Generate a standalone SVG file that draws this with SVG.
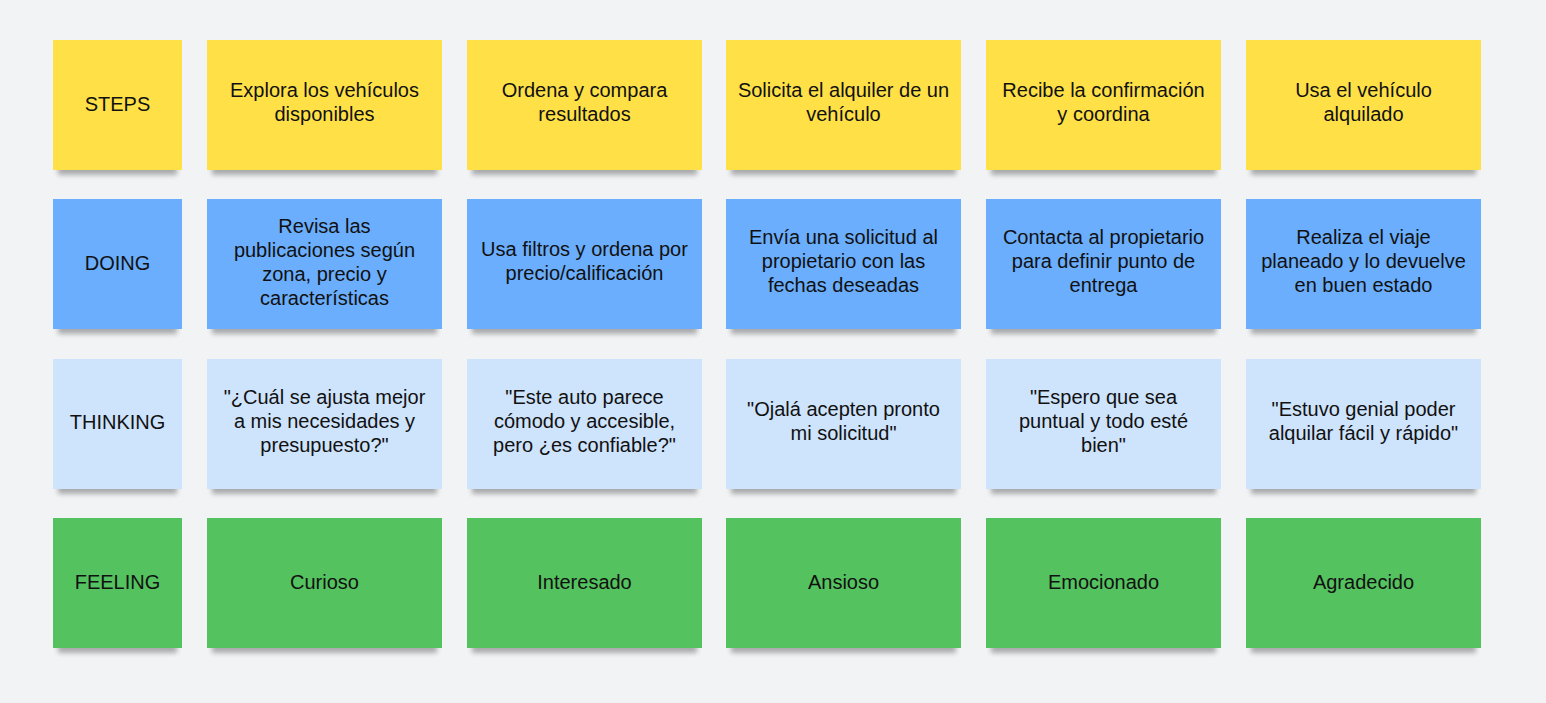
<svg xmlns="http://www.w3.org/2000/svg" width="1546" height="703" viewBox="0 0 1546 703">
<defs>
<filter id="sh" x="-10%" y="-10%" width="120%" height="130%">
<feMorphology in="SourceAlpha" operator="erode" radius="5 0" result="e"/>
<feOffset in="e" dx="0" dy="5" result="o"/>
<feGaussianBlur in="o" stdDeviation="2.5" result="b"/>
<feComponentTransfer in="b" result="s"><feFuncA type="linear" slope="0.3"/></feComponentTransfer>
<feMerge><feMergeNode in="s"/><feMergeNode in="SourceGraphic"/></feMerge>
</filter>
<style>
.n{filter:url(#sh)}
.y{fill:#FFE147}.b{fill:#6AAEFD}.l{fill:#CEE3FC}.g{fill:#54C260}
text{font-family:"Liberation Sans",Arial,sans-serif;font-size:20px;fill:#111;text-anchor:middle}
</style>
</defs>
<rect width="1546" height="703" fill="#F2F3F5"/>
<g id="connectors"/>
<!-- Row 1 -->
<g id="steps"><rect class="n y" x="53" y="40" width="129" height="130"/><text x="117.5" y="111">STEPS</text></g>
<g id="s1"><rect class="n y" x="207" y="40" width="235" height="130"/><text x="324.5" y="97">Explora los vehículos</text><text x="324.5" y="121">disponibles</text></g>
<g id="s2"><rect class="n y" x="467" y="40" width="235" height="130"/><text x="584.5" y="97">Ordena y compara</text><text x="584.5" y="121">resultados</text></g>
<g id="s3"><rect class="n y" x="726" y="40" width="235" height="130"/><text x="843.5" y="97">Solicita el alquiler de un</text><text x="843.5" y="121">vehículo</text></g>
<g id="s4"><rect class="n y" x="986" y="40" width="235" height="130"/><text x="1103.5" y="97">Recibe la confirmación</text><text x="1103.5" y="121">y coordina</text></g>
<g id="s5"><rect class="n y" x="1246" y="40" width="235" height="130"/><text x="1363.5" y="97">Usa el vehículo</text><text x="1363.5" y="121">alquilado</text></g>
<!-- Row 2 -->
<g id="doing"><rect class="n b" x="53" y="199" width="129" height="130"/><text x="117.5" y="270">DOING</text></g>
<g id="d1"><rect class="n b" x="207" y="199" width="235" height="130"/><text x="324.5" y="233">Revisa las</text><text x="324.5" y="257">publicaciones según</text><text x="324.5" y="281">zona, precio y</text><text x="324.5" y="305">características</text></g>
<g id="d2"><rect class="n b" x="467" y="199" width="235" height="130"/><text x="584.5" y="256">Usa filtros y ordena por</text><text x="584.5" y="280">precio/calificación</text></g>
<g id="d3"><rect class="n b" x="726" y="199" width="235" height="130"/><text x="843.5" y="244">Envía una solicitud al</text><text x="843.5" y="268">propietario con las</text><text x="843.5" y="292">fechas deseadas</text></g>
<g id="d4"><rect class="n b" x="986" y="199" width="235" height="130"/><text x="1103.5" y="244">Contacta al propietario</text><text x="1103.5" y="268">para definir punto de</text><text x="1103.5" y="292">entrega</text></g>
<g id="d5"><rect class="n b" x="1246" y="199" width="235" height="130"/><text x="1363.5" y="244">Realiza el viaje</text><text x="1363.5" y="268">planeado y lo devuelve</text><text x="1363.5" y="292">en buen estado</text></g>
<!-- Row 3 -->
<g id="thinking"><rect class="n l" x="53" y="359" width="129" height="130"/><text x="117.5" y="429">THINKING</text></g>
<g id="t1"><rect class="n l" x="207" y="359" width="235" height="130"/><text x="324.5" y="404">"¿Cuál se ajusta mejor</text><text x="324.5" y="428">a mis necesidades y</text><text x="324.5" y="452">presupuesto?"</text></g>
<g id="t2"><rect class="n l" x="467" y="359" width="235" height="130"/><text x="584.5" y="404">"Este auto parece</text><text x="584.5" y="428">cómodo y accesible,</text><text x="584.5" y="452">pero ¿es confiable?"</text></g>
<g id="t3"><rect class="n l" x="726" y="359" width="235" height="130"/><text x="843.5" y="416">"Ojalá acepten pronto</text><text x="843.5" y="440">mi solicitud"</text></g>
<g id="t4"><rect class="n l" x="986" y="359" width="235" height="130"/><text x="1103.5" y="404">"Espero que sea</text><text x="1103.5" y="428">puntual y todo esté</text><text x="1103.5" y="452">bien"</text></g>
<g id="t5"><rect class="n l" x="1246" y="359" width="235" height="130"/><text x="1363.5" y="416">"Estuvo genial poder</text><text x="1363.5" y="440">alquilar fácil y rápido"</text></g>
<!-- Row 4 -->
<g id="feeling"><rect class="n g" x="53" y="518" width="129" height="130"/><text x="117.5" y="589">FEELING</text></g>
<g id="f1"><rect class="n g" x="207" y="518" width="235" height="130"/><text x="324.5" y="589">Curioso</text></g>
<g id="f2"><rect class="n g" x="467" y="518" width="235" height="130"/><text x="584.5" y="589">Interesado</text></g>
<g id="f3"><rect class="n g" x="726" y="518" width="235" height="130"/><text x="843.5" y="589">Ansioso</text></g>
<g id="f4"><rect class="n g" x="986" y="518" width="235" height="130"/><text x="1103.5" y="589">Emocionado</text></g>
<g id="f5"><rect class="n g" x="1246" y="518" width="235" height="130"/><text x="1363.5" y="589">Agradecido</text></g>
</svg>
